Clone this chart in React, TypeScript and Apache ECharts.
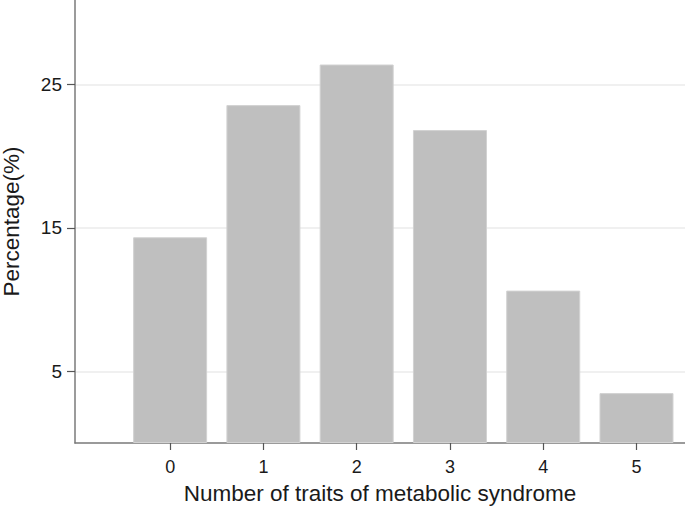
import React, { useEffect, useRef } from "react";
import * as echarts from "echarts";

const traitCounts = [0, 1, 2, 3, 4, 5];
const percentages = [14.35, 23.57, 26.4, 21.83, 10.63, 3.48];
const yTickValues = [5, 15, 25];
const xTickValues = [0, 1, 2, 3, 4, 5];
const xTitle = "Number of traits of metabolic syndrome";
const yTitle = "Percentage(%)";

export default function App() {
  const ref = useRef<HTMLDivElement>(null);
  useEffect(() => {
    document.body.style.margin = "0";
    const chart = echarts.init(ref.current!, null, { renderer: "svg" });
    const font = "'Liberation Sans', Arial, Helvetica, sans-serif";
    chart.setOption({
      animation: false,
      backgroundColor: "#ffffff",
      grid: { left: 75, right: 0, top: 0, bottom: 65, containLabel: false, outerBoundsMode: "none" },
      xAxis: {
        type: "value",
        min: -1.02,
        max: 5.52,
        name: xTitle,
        nameLocation: "middle",
        nameGap: 39,
        nameTextStyle: { fontFamily: font, fontSize: 22.5, color: "#1a1a1a" },
        axisLine: { show: true, onZero: false, lineStyle: { color: "#7a7a7a", width: 1.5 } },
        axisTick: { show: true, length: 7, customValues: xTickValues, lineStyle: { color: "#555555", width: 1.2 } },
        axisLabel: { customValues: xTickValues, margin: 15, fontFamily: font, fontSize: 18, color: "#1a1a1a" },
        splitLine: { show: false },
      },
      yAxis: {
        type: "value",
        min: 0,
        max: 30.9,
        name: yTitle,
        nameLocation: "middle",
        nameGap: 52,
        nameRotate: 90,
        nameTextStyle: { fontFamily: font, fontSize: 22.5, color: "#1a1a1a" },
        axisLine: { show: true, onZero: false, lineStyle: { color: "#7a7a7a", width: 1.5 } },
        axisTick: { show: true, length: 8, customValues: yTickValues, lineStyle: { color: "#555555", width: 1.2 } },
        axisLabel: { customValues: yTickValues, margin: 13, fontFamily: font, fontSize: 19, color: "#1a1a1a" },
        splitLine: { show: true, lineStyle: { color: "#ebebeb", width: 1.5 } },
      },
      series: [
        {
          type: "bar",
          data: traitCounts.map((c, i) => [c, percentages[i]]),
          barWidth: 74,
          itemStyle: { color: "#bfbfbf", borderColor: "#d2d2d2", borderWidth: 1 },
          silent: true,
        },
      ],
    });
    return () => chart.dispose();
  }, []);
  return <div ref={ref} style={{ width: 685, height: 508, position: "absolute", left: 0, top: 0 }} />;
}
